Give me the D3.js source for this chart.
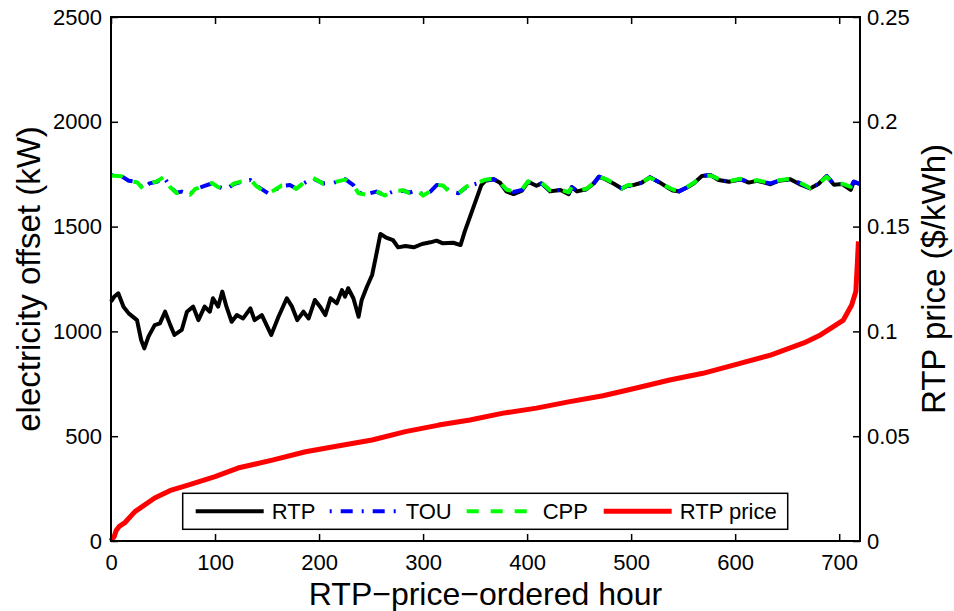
<!DOCTYPE html>
<meta charset="utf-8">
<script src="https://d3js.org/d3.v7.min.js"></script>
<style>
  body { margin: 0; background: #fff; }
  text { font-family: "Liberation Sans", Arial, sans-serif; fill: #000; }
</style>
<div id="chart"></div>
<script>
// hours on the price-ordered axis and offsets
const rtpHours = [0, 3, 7, 12, 17, 25, 29, 32, 36, 42, 47, 52, 57, 61, 68, 73, 79, 84, 90, 95, 98, 103, 107, 111, 116, 121, 127, 134, 138, 145, 154, 161, 169, 174, 179, 185, 190, 196, 201, 206, 211, 217, 222, 225, 228, 233, 238, 241, 246, 251, 254, 259, 264, 271, 276, 283, 291, 299, 307, 313, 319, 329, 336, 340, 348, 356, 360, 368, 374, 380, 387, 395, 401, 409, 414, 422, 432, 440, 443, 448, 457, 464, 469, 475, 483, 491, 496, 502, 510, 518, 527, 534, 540, 546, 554, 560, 568, 576, 584, 594, 605, 613, 621, 634, 642, 653, 663, 672, 680, 688, 695, 703, 711, 714, 720];
const rtpOffset = [1142, 1165, 1182, 1118, 1086, 1054, 959, 919, 975, 1030, 1038, 1094, 1030, 983, 1007, 1094, 1118, 1054, 1118, 1094, 1158, 1118, 1190, 1118, 1046, 1078, 1062, 1110, 1054, 1078, 983, 1070, 1158, 1118, 1054, 1094, 1062, 1150, 1118, 1078, 1158, 1134, 1197, 1166, 1206, 1158, 1070, 1150, 1213, 1269, 1341, 1465, 1449, 1436, 1401, 1407, 1401, 1417, 1425, 1433, 1420, 1423, 1412, 1476, 1587, 1698, 1719, 1726, 1709, 1668, 1655, 1672, 1714, 1695, 1706, 1668, 1675, 1655, 1688, 1668, 1678, 1706, 1738, 1726, 1706, 1682, 1694, 1698, 1709, 1735, 1712, 1690, 1672, 1668, 1688, 1706, 1741, 1746, 1722, 1714, 1726, 1710, 1719, 1702, 1719, 1726, 1700, 1682, 1703, 1741, 1700, 1703, 1675, 1714, 1703];

const touHours = [0, 10, 17, 25, 31, 37, 44, 51, 57, 63, 68, 76, 81, 90, 97, 103, 111, 118, 126, 134, 140, 146, 151, 158, 164, 172, 178, 185, 194, 204, 214, 225, 233, 238, 246, 255, 263, 271, 281, 287, 294, 300, 307, 313, 319, 326, 334, 342, 352, 360, 368, 374, 380, 387, 395, 401, 409, 414, 422, 432, 440, 443, 448, 457, 464, 469, 475, 483, 491, 496, 502, 510, 518, 527, 534, 540, 546, 554, 560, 568, 576, 584, 594, 605, 613, 621, 634, 642, 653, 663, 672, 680, 688, 695, 703, 711, 714, 720];
const touOffset = [1746, 1741, 1719, 1714, 1682, 1706, 1714, 1735, 1690, 1662, 1667, 1655, 1678, 1694, 1706, 1690, 1678, 1703, 1714, 1722, 1694, 1675, 1659, 1675, 1694, 1698, 1682, 1706, 1730, 1706, 1709, 1726, 1698, 1662, 1655, 1667, 1651, 1667, 1671, 1662, 1675, 1651, 1667, 1698, 1698, 1667, 1659, 1690, 1706, 1722, 1726, 1709, 1675, 1665, 1675, 1714, 1698, 1706, 1671, 1675, 1662, 1688, 1671, 1678, 1706, 1738, 1726, 1706, 1682, 1694, 1698, 1709, 1735, 1712, 1690, 1675, 1668, 1688, 1706, 1741, 1746, 1726, 1714, 1726, 1714, 1719, 1706, 1719, 1726, 1706, 1682, 1703, 1741, 1703, 1703, 1688, 1714, 1703];
const cppOffset = [1744, 1740, 1716, 1712, 1680, 1704, 1716, 1738, 1688, 1660, 1669, 1652, 1680, 1692, 1708, 1688, 1676, 1705, 1716, 1724, 1692, 1672, 1657, 1677, 1696, 1700, 1680, 1708, 1733, 1704, 1711, 1724, 1696, 1659, 1652, 1669, 1648, 1669, 1673, 1659, 1677, 1648, 1669, 1700, 1696, 1664, 1657, 1692, 1708, 1724, 1728, 1711, 1677, 1667, 1677, 1716, 1700, 1708, 1673, 1677, 1664, 1690, 1673, 1680, 1708, 1740, 1728, 1708, 1680, 1696, 1700, 1711, 1733, 1714, 1692, 1677, 1670, 1690, 1708, 1740, 1744, 1728, 1716, 1728, 1716, 1721, 1708, 1721, 1728, 1708, 1684, 1705, 1738, 1705, 1705, 1690, 1712, 1705];

const priceHours = [0, 1, 3, 5, 8, 13, 23, 42, 58, 74, 100, 122, 155, 187, 218, 251, 283, 315, 345, 377, 409, 441, 473, 505, 537, 569, 602, 634, 666, 682, 694, 704, 712, 716, 717.5, 718.5];
const priceValues = [0, 0.001, 0.002, 0.005, 0.007, 0.0086, 0.014, 0.0205, 0.0243, 0.0267, 0.0307, 0.0348, 0.0386, 0.0426, 0.0453, 0.0482, 0.0522, 0.0553, 0.0577, 0.061, 0.0634, 0.0665, 0.0693, 0.073, 0.0768, 0.08, 0.0844, 0.0887, 0.0945, 0.0983, 0.1022, 0.1054, 0.1126, 0.119, 0.133, 0.143];

const xTicks = [0, 100, 200, 300, 400, 500, 600, 700];
const offsetTicks = [0, 500, 1000, 1500, 2000, 2500];
const priceTicks = [0, 0.05, 0.1, 0.15, 0.2, 0.25];
const priceTickLabels = ["0", "0.05", "0.1", "0.15", "0.2", "0.25"];
const seriesNames = ["RTP", "TOU", "CPP", "RTP price"];

const margin = { top: 17, right: 94, bottom: 70, left: 111 },
    width = 954 - margin.left - margin.right,
    height = 611 - margin.top - margin.bottom;

const svg = d3.select("#chart")
    .append("svg")
    .attr("width", 954)
    .attr("height", 611);
const g = svg.append("g")
    .attr("transform", `translate(${margin.left}, ${margin.top})`);

const x = d3.scaleLinear().domain([0, 720]).range([0, width]);
const y = d3.scaleLinear().domain([0, 2500]).range([height, 0]);
const yp = d3.scaleLinear().domain([0, 0.25]).range([height, 0]);

// axes, all ticks pointing inward
function styleAxis(sel) {
    sel.select(".domain").remove();
    sel.selectAll(".tick line").attr("stroke-width", 1.5);
    sel.selectAll("text").style("font-size", "22px").attr("fill", "#000");
}
g.append("g")
    .attr("transform", `translate(0, ${height})`)
    .call(d3.axisBottom(x).tickValues(xTicks).tickSizeInner(-7).tickSizeOuter(0).tickPadding(13)
        .tickFormat(d3.format("d")))
    .call(styleAxis);
g.append("g")
    .call(d3.axisTop(x).tickValues(xTicks).tickSizeInner(-7).tickSizeOuter(0).tickFormat(""))
    .call(styleAxis);
g.append("g")
    .call(d3.axisLeft(y).tickValues(offsetTicks).tickSizeInner(-7).tickSizeOuter(0).tickPadding(9)
        .tickFormat(d3.format("d")))
    .call(styleAxis);
g.append("g")
    .attr("transform", `translate(${width}, 0)`)
    .call(d3.axisRight(yp).tickValues(priceTicks).tickSizeInner(-7).tickSizeOuter(0).tickPadding(7)
        .tickFormat((d, i) => priceTickLabels[i]))
    .call(styleAxis);

// lines
const offsetLine = d3.line().x(d => x(d[0])).y(d => y(d[1]));
const priceLine = d3.line().x(d => x(d[0])).y(d => yp(d[1]));

const styles = [
    { color: "#000000", width: 4, dash: null },
    { color: "#0000ff", width: 4, dash: "2,9,12,9" },
    { color: "#00ff00", width: 4, dash: "12,12" },
    { color: "#ff0000", width: 5, dash: null }
];

const series = [
    offsetLine(rtpHours.map((h, i) => [h, rtpOffset[i]])),
    offsetLine(touHours.map((h, i) => [h, touOffset[i]])),
    offsetLine(touHours.map((h, i) => [h, cppOffset[i]])),
    priceLine(priceHours.map((h, i) => [h, priceValues[i]]))
];

g.selectAll(".series")
    .data(series)
    .join("path")
    .attr("class", "series")
    .attr("d", d => d)
    .attr("fill", "none")
    .attr("stroke", (d, i) => styles[i].color)
    .attr("stroke-width", (d, i) => styles[i].width)
    .attr("stroke-dasharray", (d, i) => styles[i].dash)
    .attr("stroke-linejoin", "round");

// plot frame
g.append("rect")
    .attr("width", width)
    .attr("height", height)
    .attr("fill", "none")
    .attr("stroke", "#000")
    .attr("stroke-width", 2);

// legend
const legend = g.append("g")
    .attr("transform", `translate(${182.7 - margin.left}, ${493.3 - margin.top})`);
legend.append("rect")
    .attr("width", 605)
    .attr("height", 36)
    .attr("fill", "#fff")
    .attr("stroke", "#000")
    .attr("stroke-width", 1.5);
const legendPos = [13, 147, 284, 421];
const items = legend.selectAll(".item")
    .data(seriesNames)
    .join("g")
    .attr("transform", (d, i) => `translate(${legendPos[i]}, 0)`);
items.append("line")
    .attr("x1", 0).attr("x2", 68)
    .attr("y1", 18).attr("y2", 18)
    .attr("stroke", (d, i) => styles[i].color)
    .attr("stroke-width", (d, i) => styles[i].width)
    .attr("stroke-dasharray", (d, i) => styles[i].dash);
items.append("text")
    .attr("x", 76)
    .attr("y", 26)
    .style("font-size", "22px")
    .text(d => d);

// axis titles
svg.append("text")
    .attr("x", margin.left + width / 2)
    .attr("y", 605)
    .attr("text-anchor", "middle")
    .style("font-size", "32px")
    .text("RTP\u2212price\u2212ordered hour");
svg.append("text")
    .attr("transform", `translate(40, ${margin.top + height / 2}) rotate(-90)`)
    .attr("text-anchor", "middle")
    .style("font-size", "33px")
    .text("electricity offset (kW)");
svg.append("text")
    .attr("transform", `translate(945, ${margin.top + height / 2}) rotate(-90)`)
    .attr("text-anchor", "middle")
    .style("font-size", "33px")
    .text("RTP price ($/kWh)");
</script>
